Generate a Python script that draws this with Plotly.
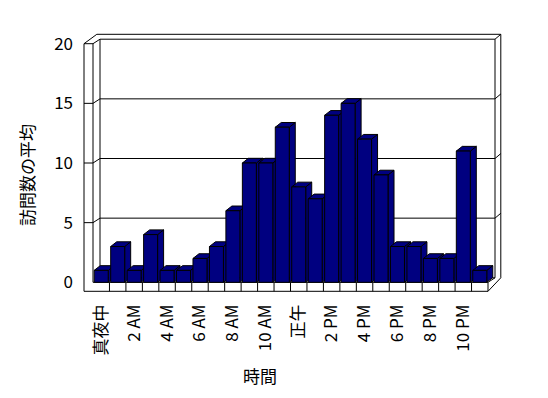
import plotly.graph_objects as go

# ---------------- data ----------------
hours = list(range(24))
visits = [1, 3, 1, 4, 1, 1, 2, 3, 6, 10, 10, 13, 8, 7, 14, 15, 12, 9, 3, 3, 2, 2, 11, 1]
tick_positions = [0, 2, 4, 6, 8, 10, 12, 14, 16, 18, 20, 22]
tick_labels = ["真夜中", "2 AM", "4 AM", "6 AM", "8 AM", "10 AM", "正午",
               "2 PM", "4 PM", "6 PM", "8 PM", "10 PM"]
y_ticks = [0, 5, 10, 15, 20]
y_title = "訪問数の平均"
x_title = "時間"

# ---------------- layout calibration ----------------
W, H = 548, 398
FONT = "Noto Sans CJK JP"
NAVY = "#000080"
L, R, T, B = 83, 45, 32, 105
PW, PH = W - L - R, H - T - B
px_x0, px_x1 = 93.0, 488.0         # pixel of x=-0.5 and x=23.5
px_y0, ppu_y = 282.3, 11.93         # pixel of y=0, pixels per unit
ppu_x = (px_x1 - px_x0) / len(hours)
xr = [-0.5 - (px_x0 - L) / ppu_x, len(hours) - 0.5 + (W - R - px_x1) / ppu_x]
yr = [-(H - B - px_y0) / ppu_y, (px_y0 - T) / ppu_y]

x0, x1 = -0.5, len(hours) - 0.5
ytop = y_ticks[-1]
bx, by = 7 / ppu_x, 4.5 / ppu_y      # depth of back wall
tx, ty = 5.8 / ppu_x, 4.9 / ppu_y    # thickness of back wall
lw = 9 / ppu_x                       # left wall thickness
fh = 9 / ppu_y                       # floor thickness
bw = 0.85                            # bar width
dx, dy = 6 / ppu_x, 4.7 / ppu_y      # bar depth


def path(pts, close=False, fill=None):
    d = "M " + " L ".join(f"{p[0]:.4f},{p[1]:.4f}" for p in pts) + (" Z" if close else "")
    s = dict(type="path", path=d, xref="x", yref="y", layer="below",
             line=dict(color="black", width=1))
    if fill:
        s["fillcolor"] = fill
    return s


shapes = []
# outer silhouette of walls / floor
shapes.append(path([(x0 - lw, ytop), (x0 - lw + bx + tx, ytop + by + ty),
                    (x1 + bx + tx, ytop + by + ty), (x1 + bx + tx, by),
                    (x1, -fh), (x0 - lw, -fh)], close=True, fill="white"))
# back wall inner face
shapes.append(path([(x0 + bx, by), (x0 + bx, ytop + by), (x1 + bx, ytop + by),
                    (x1 + bx, by)], close=True, fill="white"))
# left wall front edge and floor top front edge
shapes.append(path([(x0 - lw, ytop), (x0, ytop), (x0, 0), (x1, 0), (x1, -fh)]))
shapes.append(path([(x0, ytop), (x0 + bx, ytop + by)]))
shapes.append(path([(x1 + bx, ytop + by), (x1 + bx + tx, ytop + by + ty)]))
shapes.append(path([(x1, 0), (x1 + bx, by)]))
# floor front dividers
for k in range(1, len(hours)):
    shapes.append(path([(x0 + k, -fh), (x0 + k, 0)]))
# gridlines with ticks
for v in y_ticks[1:-1]:
    shapes.append(path([(x0 - lw, v), (x0, v), (x0 + bx, v + by),
                        (x1 + bx, v + by), (x1 + bx + tx, v + by + ty)]))
# bar side and top faces
for h, v in zip(hours, visits):
    xl, xrt = h - bw / 2, h + bw / 2
    shapes.append(path([(xrt, 0), (xrt + dx, dy), (xrt + dx, v + dy), (xrt, v)],
                       close=True, fill=NAVY))
    shapes.append(path([(xl, v), (xl + dx, v + dy), (xrt + dx, v + dy), (xrt, v)],
                       close=True, fill=NAVY))

fig = go.Figure(go.Bar(x=hours, y=visits, width=bw,
                       marker=dict(color=NAVY, line=dict(color="black", width=1)),
                       hoverinfo="skip"))

fig.update_layout(
    width=W, height=H,
    margin=dict(l=L, r=R, t=T, b=B, pad=0),
    paper_bgcolor="white", plot_bgcolor="rgba(0,0,0,0)",
    showlegend=False,
    font=dict(family=FONT, size=17, color="black"),
    shapes=shapes,
    annotations=[
        dict(text=y_title, textangle=-90, xref="paper", yref="paper",
             x=(26.0 - L) / PW, y=1 - (175 - T) / PH, xanchor="center", yanchor="middle",
             showarrow=False, font=dict(family=FONT, size=17, color="black")),
        dict(text=x_title, xref="paper", yref="paper",
             x=(260 - L) / PW, y=1 - (375 - T) / PH, xanchor="center", yanchor="middle",
             showarrow=False, font=dict(family=FONT, size=17, color="black")),
    ],
)
fig.update_xaxes(range=xr, showgrid=False, zeroline=False, showline=False, ticks="",
                 tickmode="array", tickvals=tick_positions, ticktext=tick_labels,
                 tickangle=-90, ticklabelstandoff=7, fixedrange=True,
                 tickfont=dict(family=FONT, size=17, color="#000000"))
fig.update_yaxes(range=yr, showgrid=False, zeroline=False, showline=False, ticks="",
                 tickmode="array", tickvals=y_ticks, ticklabelstandoff=9, fixedrange=True,
                 tickfont=dict(family=FONT, size=17, color="#000000"))

fig.write_html("out.html", config={"displayModeBar": False, "staticPlot": True},
               post_script="document.body.style.margin='0';document.body.style.overflow='hidden';")
